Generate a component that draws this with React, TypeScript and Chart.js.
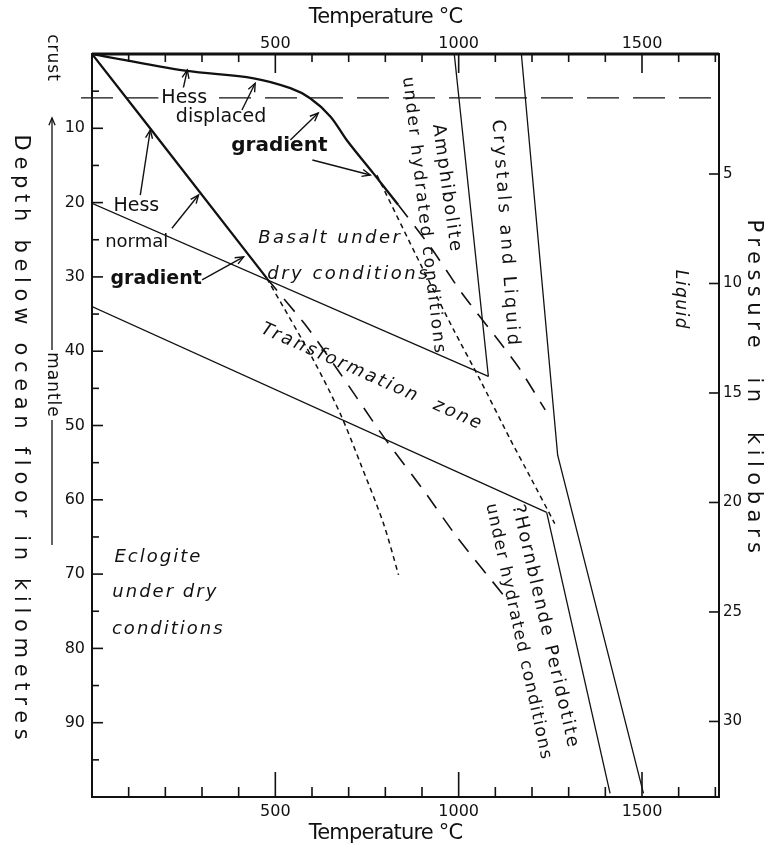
import React, { useEffect, useRef } from 'react';
import { Chart, registerables } from 'chart.js';

Chart.register(...registerables);

// ---------- axes ----------
const T_MIN = 0;
const T_MAX = 1710;
const D_MIN = 0;
const D_MAX = 100;
const P_MIN = -0.48;
const P_MAX = 33.45;

const tempTicks = [500, 1000, 1500];
const tempMinorStep = 100;
const depthTicks = [10, 20, 30, 40, 50, 60, 70, 80, 90];
const depthMinorStep = 5;
const pressureTicks = [5, 10, 15, 20, 25, 30];

// ---------- series (temperature °C, depth km) ----------
const hessNormalT = [0, 160, 477];
const hessNormalD = [0, 10.1, 30.2];

const hessDisplacedT = [0, 254, 441, 541, 595, 650, 695, 768, 835];
const hessDisplacedD = [0, 2.25, 3.27, 4.6, 5.96, 8.4, 11.6, 16.1, 20.3];

const dryMeltT = [835, 922, 1009, 1114, 1168, 1236];
const dryMeltD = [20.3, 25.9, 32.2, 38.9, 42.5, 47.9];

const hydratedT = [777, 895, 986, 1059, 1141, 1195, 1262];
const hydratedD = [16.3, 28.2, 37.1, 43.9, 51.9, 56.9, 63.2];

const normalDashT = [477, 586, 677, 795, 904, 995, 1125];
const normalDashD = [30.2, 36.7, 43.0, 51.5, 58.7, 65.0, 73.0];

const normalDotT = [477, 604, 677, 732, 795, 836];
const normalDotD = [30.2, 41.2, 48.4, 55.1, 63.2, 70.1];

const transUpperT = [0, 1081];
const transUpperD = [20.1, 43.4];

const basaltSolidusT = [988, 1081];
const basaltSolidusD = [0, 43.4];

const transLowerT = [0, 1240];
const transLowerD = [34.0, 61.7];

const liquidusT = [1171, 1270, 1504];
const liquidusD = [0, 54, 99.5];

const hornblendeT = [1240, 1413];
const hornblendeD = [61.7, 99.5];

const crustT = [-30, 1710];
const crustD = [5.9, 5.9];

// ---------- annotations (data coords) ----------
type Lbl = {
  text: string; t: number; d: number; rot: number; size: number;
  italic?: boolean; bold?: boolean; ls?: number; bg?: boolean;
};
const labels: Lbl[] = [
  { text: 'Hess', t: 251.6, d: 5.92, rot: 0, size: 19, bg: true },
  { text: 'displaced', t: 352, d: 8.5, rot: 0, size: 19 },
  { text: 'gradient', t: 511, d: 12.4, rot: 0, size: 20, bold: true },
  { text: 'Hess', t: 121, d: 20.4, rot: 0, size: 19 },
  { text: 'normal', t: 122, d: 25.4, rot: 0, size: 18 },
  { text: 'gradient', t: 175, d: 30.3, rot: 0, size: 19, bold: true },
  { text: 'Basalt under', t: 650, d: 24.8, rot: 0, size: 18, italic: true, ls: 2.5 },
  { text: 'dry conditions', t: 700, d: 29.6, rot: 0, size: 18, italic: true, ls: 2.5 },
  { text: 'Transformation', t: 677, d: 41.6, rot: 24, size: 18, italic: true, ls: 2.5 },
  { text: 'zone', t: 999, d: 48.6, rot: 24, size: 18, italic: true, ls: 2.5 },
  { text: 'Eclogite', t: 181, d: 67.8, rot: 0, size: 18, italic: true, ls: 2 },
  { text: 'under dry', t: 200, d: 72.5, rot: 0, size: 18, italic: true, ls: 2 },
  { text: 'conditions', t: 208, d: 77.5, rot: 0, size: 18, italic: true, ls: 2 },
  { text: 'Crystals and Liquid', t: 1127, d: 24.2, rot: 86, size: 18, ls: 3 },
  { text: 'Amphibolite', t: 967, d: 18.1, rot: 82, size: 18, ls: 2 },
  { text: 'under hydrated conditions', t: 904, d: 21.8, rot: 83.4, size: 17, ls: 2.2 },
  { text: 'Liquid', t: 1604, d: 33.1, rot: 90, size: 17, italic: true, ls: 1.5 },
  { text: '?Hornblende Peridotite', t: 1236, d: 77.1, rot: 77, size: 18, ls: 2 },
  { text: 'under hydrated conditions', t: 1163, d: 77.8, rot: 77.7, size: 17, ls: 1.5 },
];

type Arr = { t1: number; d1: number; t2: number; d2: number };
const arrows: Arr[] = [
  { t1: 249, d1: 4.58, t2: 260, d2: 2.15 },
  { t1: 409, d1: 7.54, t2: 445, d2: 3.94 },
  { t1: 541, d1: 11.57, t2: 617, d2: 7.94 },
  { t1: 601, d1: 14.27, t2: 759, d2: 16.29 },
  { t1: 131.7, d1: 18.98, t2: 159, d2: 10.23 },
  { t1: 218, d1: 23.46, t2: 290.7, d2: 18.98 },
  { t1: 300, d1: 30.4, t2: 413.5, d2: 27.3 },
];

const INK = '#111111';
const FONT = 'DejaVu Sans';

function series(T: number[], D: number[]) {
  return T.map((t, i) => ({ x: t, y: D[i] }));
}

function drawArrowHead(ctx: CanvasRenderingContext2D, x1: number, y1: number, x2: number, y2: number, size: number) {
  const a = Math.atan2(y2 - y1, x2 - x1);
  ctx.beginPath();
  ctx.moveTo(x2 - size * Math.cos(a - 0.4), y2 - size * Math.sin(a - 0.4));
  ctx.lineTo(x2, y2);
  ctx.lineTo(x2 - size * Math.cos(a + 0.4), y2 - size * Math.sin(a + 0.4));
  ctx.stroke();
}

function drawText(ctx: CanvasRenderingContext2D, text: string, x: number, y: number, rot: number, size: number, opts: { italic?: boolean; bold?: boolean; ls?: number; bg?: boolean } = {}) {
  ctx.save();
  ctx.translate(x, y);
  ctx.rotate((rot * Math.PI) / 180);
  ctx.font = `${opts.italic ? 'italic ' : ''}${opts.bold ? 'bold ' : ''}${size}px "${FONT}"`;
  (ctx as any).letterSpacing = `${opts.ls || 0}px`;
  ctx.textAlign = 'center';
  ctx.textBaseline = 'middle';
  if (opts.bg) {
    const w = ctx.measureText(text).width;
    ctx.fillStyle = '#ffffff';
    ctx.fillRect(-w / 2 - 3, -size * 0.55, w + 6, size * 1.1);
  }
  ctx.fillStyle = INK;
  ctx.fillText(text, 0, 0);
  ctx.restore();
}

const annotationPlugin = {
  id: 'annotations',
  afterDraw(chart: any) {
    const ctx: CanvasRenderingContext2D = chart.ctx;
    const xs = chart.scales.x;
    const ys = chart.scales.y;
    const ps = chart.scales.y2;
    const ca = chart.chartArea;

    ctx.save();
    ctx.strokeStyle = INK;
    ctx.lineCap = 'butt';

    // frame
    ctx.lineWidth = 2;
    ctx.strokeRect(ca.left, ca.top, ca.right - ca.left, ca.bottom - ca.top);
    ctx.lineWidth = 3;
    ctx.beginPath();
    ctx.moveTo(ca.left, ca.top);
    ctx.lineTo(ca.right, ca.top);
    ctx.stroke();

    // inward ticks
    ctx.lineWidth = 1.6;
    for (let v = tempMinorStep; v < T_MAX; v += tempMinorStep) {
      const px = xs.getPixelForValue(v);
      const major = tempTicks.includes(v);
      ctx.beginPath();
      ctx.moveTo(px, ca.bottom);
      ctx.lineTo(px, ca.bottom - (major ? 25 : 10));
      ctx.moveTo(px, ca.top);
      ctx.lineTo(px, ca.top + (major ? 19 : 8));
      ctx.stroke();
    }
    for (let v = depthMinorStep; v < D_MAX; v += depthMinorStep) {
      const py = ys.getPixelForValue(v);
      const major = depthTicks.includes(v);
      ctx.beginPath();
      ctx.moveTo(ca.left, py);
      ctx.lineTo(ca.left + (major ? 11 : 7), py);
      ctx.stroke();
    }
    for (const v of pressureTicks) {
      const py = ps.getPixelForValue(v);
      ctx.beginPath();
      ctx.moveTo(ca.right, py);
      ctx.lineTo(ca.right - 10, py);
      ctx.stroke();
    }

    // arrows
    ctx.lineWidth = 1.4;
    for (const a of arrows) {
      const x1 = xs.getPixelForValue(a.t1), y1 = ys.getPixelForValue(a.d1);
      const x2 = xs.getPixelForValue(a.t2), y2 = ys.getPixelForValue(a.d2);
      ctx.beginPath();
      ctx.moveTo(x1, y1);
      ctx.lineTo(x2, y2);
      ctx.stroke();
      drawArrowHead(ctx, x1, y1, x2, y2, 9);
    }

    // in-plot labels
    for (const l of labels) {
      drawText(ctx, l.text, xs.getPixelForValue(l.t), ys.getPixelForValue(l.d), l.rot, l.size, l);
    }

    // axis titles
    const cx = (ca.left + ca.right) / 2 - 20;
    drawText(ctx, 'Temperature °C', cx, ca.top - 36, 0, 21, { ls: -0.8 });
    drawText(ctx, 'Temperature °C', cx, ca.bottom + 37, 0, 21, { ls: -0.8 });
    drawText(ctx, 'Depth below ocean floor in kilometres', ca.left - 72, 440, 90, 21, { ls: 5.7 });
    drawText(ctx, 'Pressure  in  kilobars', ca.right + 34, 389, 90, 21, { ls: 5.5 });
    drawText(ctx, 'crust', ca.left - 40, ca.top + 4, 90, 17, { ls: 1 });
    drawText(ctx, 'mantle', ca.left - 40, 385, 90, 17, { ls: 1 });

    // mantle arrow
    const ax = ca.left - 40;
    ctx.lineWidth = 1.3;
    ctx.beginPath();
    ctx.moveTo(ax, 350);
    ctx.lineTo(ax, 118);
    ctx.moveTo(ax, 420);
    ctx.lineTo(ax, 545);
    ctx.stroke();
    drawArrowHead(ctx, ax, 200, ax, 118, 8);

    ctx.restore();
  },
};

function lineDs(T: number[], D: number[], width: number, dash: number[], tension = 0, clip: any = undefined) {
  const ds: any = {
    data: series(T, D),
    showLine: true,
    borderColor: INK,
    borderWidth: width,
    borderDash: dash,
    pointRadius: 0,
    fill: false,
    tension,
    xAxisID: 'x',
    yAxisID: 'y',
  };
  if (clip !== undefined) ds.clip = clip;
  return ds;
}

const plainLabel = (v: any) => String(v);

export default function App() {
  const ref = useRef<HTMLCanvasElement | null>(null);

  useEffect(() => {
    if (!ref.current) return;
    const tickFont = { family: FONT, size: 16 };
    const gridOff = { display: false, drawTicks: false, tickLength: 0 };
    const chart = new Chart(ref.current, {
      type: 'scatter',
      data: {
        datasets: [
          lineDs(hessNormalT, hessNormalD, 2.3, [], 0),
          lineDs(hessDisplacedT, hessDisplacedD, 2.3, [], 0.35),
          lineDs(dryMeltT, dryMeltD, 1.6, [16, 11], 0.2),
          lineDs(hydratedT, hydratedD, 1.5, [5, 4], 0.2),
          lineDs(normalDashT, normalDashD, 1.6, [16, 11], 0.2),
          lineDs(normalDotT, normalDotD, 1.5, [5, 4], 0.3),
          lineDs(transUpperT, transUpperD, 1.3, []),
          lineDs(basaltSolidusT, basaltSolidusD, 1.3, []),
          lineDs(transLowerT, transLowerD, 1.3, []),
          lineDs(liquidusT, liquidusD, 1.3, []),
          lineDs(hornblendeT, hornblendeD, 1.3, []),
          lineDs(crustT, crustD, 1.3, [32, 14], 0, false),
        ],
      },
      options: {
        responsive: false,
        animation: false,
        events: [],
        layout: { padding: 0 },
        plugins: { legend: { display: false }, tooltip: { enabled: false } },
        scales: {
          x: {
            type: 'linear', position: 'bottom', min: T_MIN, max: T_MAX,
            grid: gridOff, border: { display: false },
            afterBuildTicks: (s: any) => { s.ticks = tempTicks.map((v) => ({ value: v })); },
            ticks: { font: tickFont, color: INK, padding: 5, maxRotation: 0, autoSkip: false, callback: plainLabel },
            afterFit: (s: any) => { s.height = 53; },
          },
          xTop: {
            type: 'linear', position: 'top', min: T_MIN, max: T_MAX,
            grid: gridOff, border: { display: false },
            afterBuildTicks: (s: any) => { s.ticks = tempTicks.map((v) => ({ value: v })); },
            ticks: { font: tickFont, color: INK, padding: 1, maxRotation: 0, autoSkip: false, callback: plainLabel },
            afterFit: (s: any) => { s.height = 54; },
          },
          y: {
            type: 'linear', position: 'left', reverse: true, min: D_MIN, max: D_MAX,
            grid: gridOff, border: { display: false },
            afterBuildTicks: (s: any) => { s.ticks = depthTicks.map((v) => ({ value: v })); },
            ticks: { font: tickFont, color: INK, padding: 7, autoSkip: false, callback: plainLabel },
            afterFit: (s: any) => { s.width = 92; },
          },
          y2: {
            type: 'linear', position: 'right', reverse: true, min: P_MIN, max: P_MAX,
            grid: gridOff, border: { display: false },
            afterBuildTicks: (s: any) => { s.ticks = pressureTicks.map((v) => ({ value: v })); },
            ticks: { font: { family: FONT, size: 15 }, color: INK, padding: 4, autoSkip: false, callback: plainLabel },
            afterFit: (s: any) => { s.width = 53; },
          },
        },
      },
      plugins: [annotationPlugin],
    });
    return () => chart.destroy();
  }, []);

  return (
    <div style={{ position: 'fixed', left: 0, top: 0, width: 772, height: 850, background: '#fff' }}>
      <canvas ref={ref} width={772} height={850} style={{ width: 772, height: 850, display: 'block' }} />
    </div>
  );
}
